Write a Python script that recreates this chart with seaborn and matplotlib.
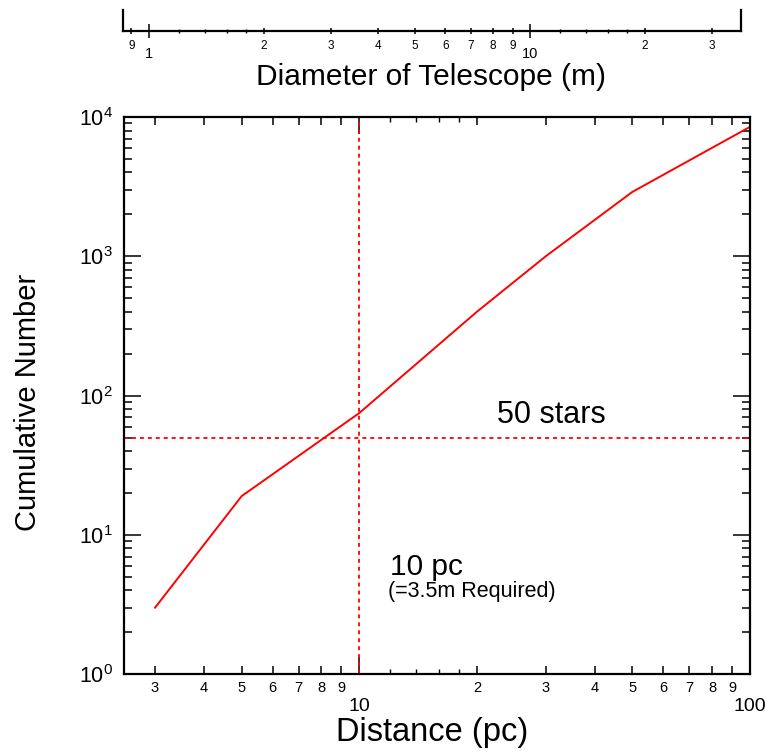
import matplotlib
matplotlib.use("Agg")
import matplotlib.pyplot as plt
import seaborn as sns
import pandas as pd
from matplotlib.ticker import FixedLocator, FixedFormatter, NullFormatter, NullLocator, LogLocator

# ---------------- data ----------------
distance_pc = [3, 5, 10, 20, 30, 50, 100]
cumulative_number = [3.0, 19, 75, 400, 1000, 2900, 8500]

threshold_stars = 50
threshold_pc = 10

# main x axis (distance) ticks
x_major_ticks = [10, 100]
x_major_labels = ["10", "100"]
x_minor_ticks = [3, 4, 5, 6, 7, 8, 9, 20, 30, 40, 50, 60, 70, 80, 90]
x_minor_labels = ["3", "4", "5", "6", "7", "8", "9", "2", "3", "4", "5", "6", "7", "8", "9"]
x_tiny_ticks = [12, 14, 16, 18]

# y axis ticks
y_major_ticks = [1, 10, 100, 1000, 10000]
y_major_labels = [r"$\mathregular{10^{0}}$", r"$\mathregular{10^{1}}$", r"$\mathregular{10^{2}}$",
                  r"$\mathregular{10^{3}}$", r"$\mathregular{10^{4}}$"]

# telescope diameter axis ticks
d_major_ticks = [1, 10]
d_major_labels = ["1", "10"]
d_minor_ticks = [0.9, 2, 3, 4, 5, 6, 7, 8, 9, 20, 30]
d_minor_labels = ["9", "2", "3", "4", "5", "6", "7", "8", "9", "2", "3"]
d_tiny_ticks = [1.2, 1.4, 1.6, 1.8, 12, 14, 16, 18]

# ---------------- style ----------------
sns.set_theme(style="ticks")
plt.rcParams["font.family"] = ["Liberation Sans", "DejaVu Sans"]
plt.rcParams["mathtext.fontset"] = "custom"
plt.rcParams["mathtext.rm"] = "Liberation Sans"
plt.rcParams["mathtext.it"] = "Liberation Sans:italic"
plt.rcParams["mathtext.bf"] = "Liberation Sans:bold"
for k in ["axes.edgecolor", "xtick.color", "ytick.color", "text.color", "axes.labelcolor"]:
    plt.rcParams[k] = "black"

W, H = 767, 752
fig = plt.figure(figsize=(W / 100, H / 100), dpi=100)
fig.patch.set_facecolor("white")

# main axes
left, right, top, bottom = 124, 750, 117, 674.3
ax = fig.add_axes([left / W, 1 - bottom / H, (right - left) / W, (bottom - top) / H])
ax.set_xscale("log")
ax.set_yscale("log")

df = pd.DataFrame({"distance": distance_pc, "number": cumulative_number})
sns.lineplot(data=df, x="distance", y="number", color="#ff0000", linewidth=1.4, ax=ax, sort=False)

ax.axhline(threshold_stars, color="#ff0000", linewidth=1.3, linestyle=(0, (2.2, 2.2)))
ax.axvline(threshold_pc, color="#ff0000", linewidth=1.3, linestyle=(0, (2.2, 2.2)))

ax.set_xlim(2.5, 100)
ax.set_ylim(1, 10000)

for s in ax.spines.values():
    s.set_linewidth(1.6)
    s.set_color("black")

ax.xaxis.set_major_locator(FixedLocator(x_major_ticks))
ax.xaxis.set_major_formatter(FixedFormatter(x_major_labels))
ax.xaxis.set_minor_locator(FixedLocator(x_minor_ticks))
ax.xaxis.set_minor_formatter(FixedFormatter(x_minor_labels))
ax.yaxis.set_major_locator(FixedLocator(y_major_ticks))
ax.yaxis.set_major_formatter(FixedFormatter(y_major_labels))
ax.yaxis.set_minor_locator(LogLocator(base=10, subs=[2, 3, 4, 5, 6, 7, 8, 9], numticks=20))
ax.yaxis.set_minor_formatter(NullFormatter())

# tiny ticks on the distance axis (twin)
axt = ax.twiny()
axt.set_xscale("log")
axt.set_xlim(ax.get_xlim())
axt.xaxis.set_major_locator(FixedLocator(x_tiny_ticks))
axt.xaxis.set_major_formatter(NullFormatter())
axt.xaxis.set_minor_locator(NullLocator())
axt.tick_params(axis="x", which="major", direction="in", length=3.5, width=1.0,
                top=True, bottom=True, labeltop=False, labelbottom=False)
for s in axt.spines.values():
    s.set_visible(False)

ax.tick_params(axis="x", which="major", direction="in", length=12, width=1.1,
               labelsize=14, pad=17, top=True, bottom=True)
ax.tick_params(axis="x", which="minor", direction="in", length=6, width=1.1,
               labelsize=10.5, pad=5, top=True, bottom=True)
ax.tick_params(axis="y", which="major", direction="in", length=12, width=1.1,
               labelsize=15.5, pad=8, left=True, right=True)
ax.tick_params(axis="y", which="minor", direction="in", length=6, width=1.1,
               left=True, right=True)

ax.set_xlabel("Distance (pc)", fontsize=23.5, va="center")
ax.xaxis.set_label_coords((432.5 - left) / (right - left), -(733 - bottom) / (bottom - top))
ax.set_ylabel("Cumulative Number", fontsize=21, va="center")
ax.yaxis.set_label_coords((28 - left) / (right - left), (bottom - 402.5) / (bottom - top))

ax.text(22.5, 63.7, "50 stars", fontsize=22, ha="left", va="baseline")
ax.text(12.0, 5.16, "10 pc", fontsize=21.5, ha="left", va="baseline")
ax.text(11.86, 3.61, "(=3.5m Required)", fontsize=15.5, ha="left", va="baseline")

# telescope diameter axis (top)
dl, dr, dline, dtop = 123, 741, 31, 10
axd = fig.add_axes([dl / W, 1 - dline / H, (dr - dl) / W, (dline - dtop) / H])
axd.patch.set_visible(False)
axd.set_xscale("log")
axd.set_xlim(0.855, 35.8)
axd.set_yticks([])
axd.spines["top"].set_visible(False)
for s in ["left", "right", "bottom"]:
    axd.spines[s].set_linewidth(1.6)
    axd.spines[s].set_color("black")
axd.xaxis.set_major_locator(FixedLocator(d_major_ticks))
axd.xaxis.set_major_formatter(FixedFormatter(d_major_labels))
axd.xaxis.set_minor_locator(FixedLocator(d_minor_ticks))
axd.xaxis.set_minor_formatter(FixedFormatter(d_minor_labels))

axdt = axd.twiny()
axdt.set_xscale("log")
axdt.set_xlim(axd.get_xlim())
axdt.xaxis.set_major_locator(FixedLocator(d_tiny_ticks))
axdt.xaxis.set_major_formatter(NullFormatter())
axdt.xaxis.set_minor_locator(NullLocator())
axdt.xaxis.tick_bottom()
axdt.tick_params(axis="x", which="major", direction="inout", length=3.2, width=1.0,
                 top=False, bottom=True, labeltop=False, labelbottom=False)
for s in axdt.spines.values():
    s.set_visible(False)

axd.tick_params(axis="x", which="major", direction="inout", length=9.4, width=1.1,
                labelsize=10.5, pad=6.5, bottom=True, top=False)
axd.tick_params(axis="x", which="minor", direction="inout", length=4.4, width=1.1,
                labelsize=8.5, pad=4.2, bottom=True, top=False)
axd.set_xlabel("Diameter of Telescope (m)", fontsize=21.5, va="center")
axd.xaxis.set_label_coords((431.5 - dl) / (dr - dl), -(77 - dline) / (dline - dtop))

fig.savefig("out.png", dpi=100, facecolor="white")
